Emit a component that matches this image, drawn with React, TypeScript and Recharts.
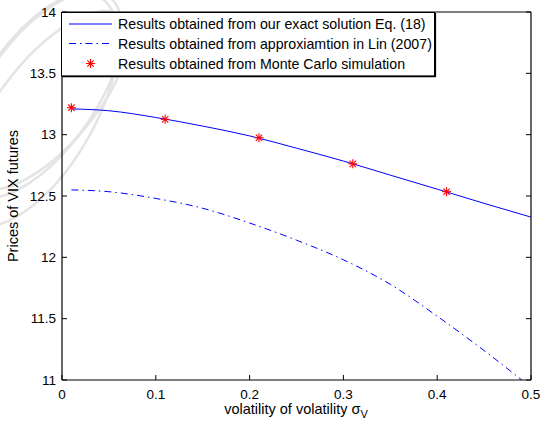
import { ComposedChart, Line, Scatter, XAxis, YAxis, Legend } from "recharts"

const FONT = "'Liberation Sans', Arial, Helvetica, sans-serif"

// volatility of volatility grid for the two curves
const sigmaGrid = [0.01, 0.05, 0.1, 0.15, 0.2, 0.25, 0.3, 0.35, 0.4, 0.45, 0.5]
const exactPrices = [13.21, 13.195, 13.14, 13.07, 12.99, 12.89, 12.785, 12.67, 12.556, 12.44, 12.328]
const linPrices = [12.55, 12.535, 12.48, 12.4, 12.28, 12.14, 11.98, 11.78, 11.52, 11.24, 10.94]

// Monte Carlo points
const mcSigma = [0.01, 0.11, 0.21, 0.31, 0.41]
const mcPrices = [13.22, 13.125, 12.975, 12.762, 12.535]

const xTicks = [0, 0.1, 0.2, 0.3, 0.4, 0.5]
const yTicks = [11, 11.5, 12, 12.5, 13, 13.5, 14]

const seriesNames = [
  "Results obtained from our exact solution Eq. (18)",
  "Results obtained from approxiamtion in Lin (2007)",
  "Results obtained from Monte Carlo simulation",
]

const exactData = sigmaGrid.map((x, i) => ({ x, y: exactPrices[i] }))
const linData = sigmaGrid.map((x, i) => ({ x, y: linPrices[i] }))
const mcData = mcSigma.map((x, i) => ({ x, y: mcPrices[i] }))

const BLUE = "#0000ff"
const RED = "#ff0000"
const DASHDOT = "7 4 1.5 4"
const TICK_LEN = 5
const X_LABEL_GAP = 10
const Y_LABEL_GAP = 6
const TICK_FONT = 13.5

function Asterisk({ cx, cy, r = 4.5 }: { cx: number; cy: number; r?: number }) {
  const d = r * 0.7071
  return (
    <g stroke={RED} strokeWidth={1.1}>
      <line x1={cx - r} y1={cy} x2={cx + r} y2={cy} />
      <line x1={cx} y1={cy - r} x2={cx} y2={cy + r} />
      <line x1={cx - d} y1={cy - d} x2={cx + d} y2={cy + d} />
      <line x1={cx - d} y1={cy + d} x2={cx + d} y2={cy - d} />
    </g>
  )
}

// inward matlab-style ticks: tickSize 0 so x/y is the axis line (+ margin)
function BottomTick({ x, y, payload }: any) {
  const ay = y - X_LABEL_GAP
  return (
    <g>
      <line x1={x} y1={ay} x2={x} y2={ay - TICK_LEN} stroke="#000" />
      <text x={x} y={ay + 19} textAnchor="middle" fontSize={TICK_FONT} fontFamily={FONT} fill="#000">
        {payload.value}
      </text>
    </g>
  )
}

function TopTick({ x, y }: any) {
  return <line x1={x} y1={y} x2={x} y2={y + TICK_LEN} stroke="#000" />
}

function LeftTick({ x, y, payload }: any) {
  const ax = x + Y_LABEL_GAP
  return (
    <g>
      <line x1={ax} y1={y} x2={ax + TICK_LEN} y2={y} stroke="#000" />
      <text x={x} y={y + 4.5} textAnchor="end" fontSize={TICK_FONT} fontFamily={FONT} fill="#000">
        {payload.value}
      </text>
    </g>
  )
}

function RightTick({ x, y }: any) {
  return <line x1={x} y1={y} x2={x - TICK_LEN} y2={y} stroke="#000" />
}

function LegendBox() {
  const rows = [12, 31.5, 51.5]
  return (
    <svg width={390} height={66} style={{ display: "block", overflow: "visible" }}>
      <rect x={0.5} y={0.5} width={373} height={63.5} fill="#fff" stroke="#000" />
      <line x1={1} y1={64.5} x2={374.5} y2={64.5} stroke="#000" strokeWidth={1.5} />
      <line x1={374.5} y1={1} x2={374.5} y2={65} stroke="#000" strokeWidth={1.2} />
      <line x1={8} y1={rows[0]} x2={51} y2={rows[0]} stroke={BLUE} />
      <line x1={8} y1={rows[1]} x2={51} y2={rows[1]} stroke={BLUE} strokeDasharray={DASHDOT} />
      <Asterisk cx={29.5} cy={rows[2]} />
      {seriesNames.map((name, i) => (
        <text key={name} x={57} y={rows[i] + 5} fontSize={14.2} fontFamily={FONT} fill="#000">
          {name}
        </text>
      ))}
    </svg>
  )
}

const axisStroke = { stroke: "#000", strokeWidth: 1.2 }

export default function App() {
  return (
    <div style={{ position: "absolute", left: 0, top: 0, width: 540, height: 421, background: "#fff" }}>
      <svg width={540} height={421} style={{ position: "absolute", left: 0, top: 0 }}>
        <g fill="none" stroke="#e4e4e4" strokeWidth={2.5}>
          <ellipse cx={40} cy={95} rx={120} ry={55} transform="rotate(-55 40 95)" />
          <ellipse cx={50} cy={100} rx={110} ry={45} transform="rotate(-50 50 100)" />
          <ellipse cx={35} cy={110} rx={130} ry={60} transform="rotate(-60 35 110)" />
        </g>
      </svg>
      <ComposedChart
        width={540}
        height={421}
        margin={{ top: 11, right: 8, bottom: 0, left: 0 }}
        style={{ position: "absolute", left: 0, top: 0 }}
      >
        <XAxis
          xAxisId="b"
          dataKey="x"
          type="number"
          domain={[0, 0.5]}
          ticks={xTicks}
          interval={0}
          height={41}
          tickSize={0}
          tickMargin={X_LABEL_GAP}
          axisLine={axisStroke}
          tickLine={false}
          tick={<BottomTick />}
          allowDataOverflow
        />
        <XAxis
          xAxisId="t"
          orientation="top"
          type="number"
          domain={[0, 0.5]}
          ticks={xTicks}
          interval={0}
          height={1}
          tickSize={0}
          tickMargin={0}
          axisLine={axisStroke}
          tickLine={false}
          tick={<TopTick />}
          allowDataOverflow
        />
        <YAxis
          yAxisId="l"
          type="number"
          domain={[11, 14]}
          ticks={yTicks}
          interval={0}
          width={62}
          tickSize={0}
          tickMargin={Y_LABEL_GAP}
          axisLine={axisStroke}
          tickLine={false}
          tick={<LeftTick />}
          allowDataOverflow
        />
        <YAxis
          yAxisId="r"
          orientation="right"
          type="number"
          domain={[11, 14]}
          ticks={yTicks}
          interval={0}
          width={1}
          tickSize={0}
          tickMargin={0}
          axisLine={axisStroke}
          tickLine={false}
          tick={<RightTick />}
          allowDataOverflow
        />
        <Line
          xAxisId="b"
          yAxisId="l"
          data={exactData}
          dataKey="y"
          name={seriesNames[0]}
          type="monotone"
          stroke={BLUE}
          strokeWidth={1}
          dot={false}
          activeDot={false}
          isAnimationActive={false}
        />
        <Line
          xAxisId="b"
          yAxisId="l"
          data={linData}
          dataKey="y"
          name={seriesNames[1]}
          type="monotone"
          stroke={BLUE}
          strokeWidth={1}
          strokeDasharray={DASHDOT}
          dot={false}
          activeDot={false}
          isAnimationActive={false}
        />
        <Scatter
          xAxisId="b"
          yAxisId="l"
          data={mcData}
          dataKey="y"
          name={seriesNames[2]}
          fill={RED}
          shape={(p: any) => <Asterisk cx={p.cx} cy={p.cy} />}
          isAnimationActive={false}
        />
        <Legend
          layout="vertical"
          align="center"
          verticalAlign="middle"
          wrapperStyle={{ top: 12, left: 61, width: 390, height: 66 }}
          content={() => <LegendBox />}
        />
      </ComposedChart>
      <svg width={540} height={421} style={{ position: "absolute", left: 0, top: 0, pointerEvents: "none" }}>
        <text x={296} y={414} textAnchor="middle" fontSize={14.5} fontFamily={FONT} fill="#000">
          volatility of volatility σ
          <tspan fontSize={11} dy={4}>V</tspan>
        </text>
        <text
          x={18}
          y={196}
          textAnchor="middle"
          fontSize={14.5}
          fontFamily={FONT}
          fill="#000"
          transform="rotate(-90 18 196)"
        >
          Prices of VIX futures
        </text>
      </svg>
    </div>
  )
}
